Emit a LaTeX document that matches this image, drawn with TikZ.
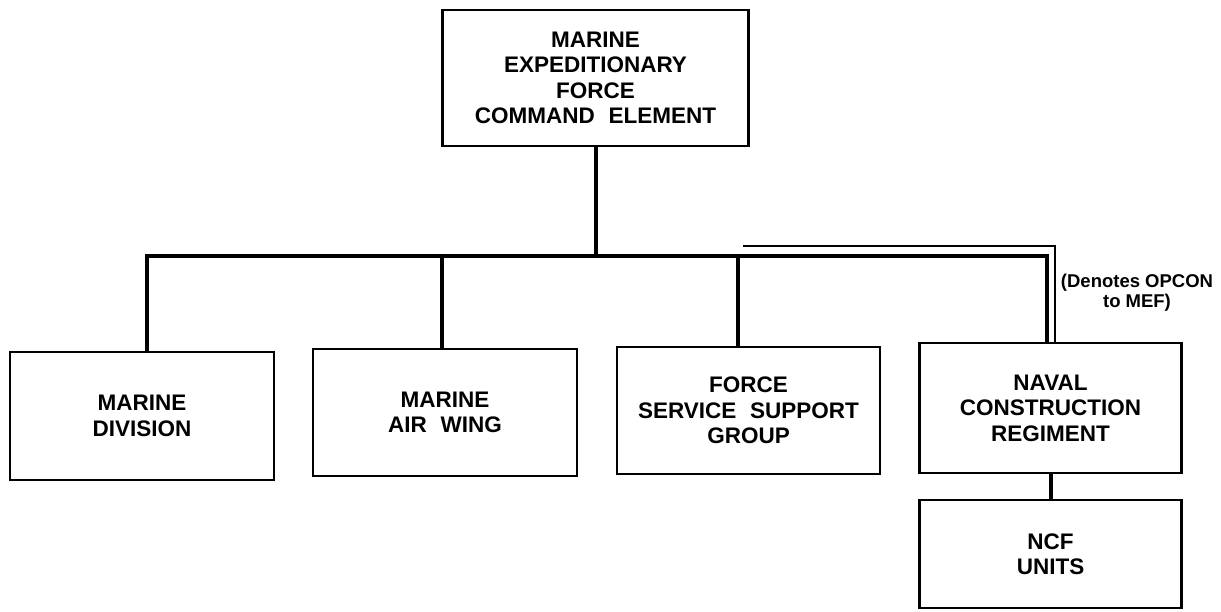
\documentclass[tikz,border=0pt]{standalone}
\usepackage{fontspec}
\setmainfont{Liberation Sans}
\newfontfamily\boxfont[WordSpace=2.2]{Liberation Sans}
\usepackage{tikz}

\begin{document}
\begin{tikzpicture}[x=1pt,y=-1pt,
  unit/.style={rectangle,draw,line width=2.5pt,align=center,inner sep=0pt,
    minimum width=263,minimum height=127,
    font=\boxfont\bfseries\fontsize{22.5}{25.5}\selectfont},
  link/.style={line width=4pt},
  opcon/.style={line width=2pt},
  note/.style={align=center,inner sep=0pt,
    font=\bfseries\fontsize{18.5}{20}\selectfont}]
\useasboundingbox (0,0) rectangle (1221,611);
\node [unit,minimum width=306,minimum height=136] (mef) at (595.5,78) {MARINE\\EXPEDITIONARY\\FORCE\\COMMAND ELEMENT};
\node [unit,minimum width=264,minimum height=128] (div) at (142,416) {MARINE\\DIVISION};
\node [unit,minimum width=264] (wing) at (445,412.5) {MARINE\\AIR WING};
\node [unit] (fssg) at (748.5,410.5) {FORCE\\SERVICE SUPPORT\\GROUP};
\node [unit,minimum width=262,minimum height=130] (ncr) at (1050.5,408) {NAVAL\\CONSTRUCTION\\REGIMENT};
\node [unit,minimum width=262,minimum height=108] (ncf) at (1050.5,554) {NCF\\UNITS};
\node [note] (denote) at (1137,293) {(Denotes OPCON\\to MEF)};
\coordinate (fork) at (595,256);
\coordinate (opconend) at (743,246);
\draw [link] (mef.south) -- (mef.south |- fork);
\draw [link] ([xshift=5]div.north) |- (fork) -| ([xshift=-3.5]ncr.north);
\draw [link] ([xshift=-3]wing.north) -- ([xshift=-3]wing.north |- fork);
\draw [link] ([xshift=-10.5]fssg.north) -- ([xshift=-10.5]fssg.north |- fork);
\draw [opcon] ([xshift=4]ncr.north) |- (opconend);
\draw [link] (ncr.south) -- (ncf.north);
\end{tikzpicture}
\end{document}
